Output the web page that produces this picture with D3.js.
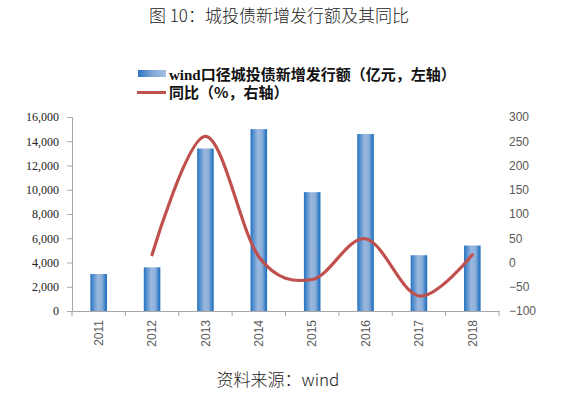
<!DOCTYPE html>
<html>
<head>
<meta charset="utf-8">
<script src="https://cdn.jsdelivr.net/npm/d3@7"></script>
<style>
  html, body { margin: 0; padding: 0; background: #fff; }
  svg { display: block; }
</style>
</head>
<body>
<svg id="chart" width="561" height="395"></svg>
<script>
const categories = ["2011", "2012", "2013", "2014", "2015", "2016", "2017", "2018"];
const issuance = [3050, 3600, 13400, 15000, 9800, 14600, 4600, 5400];
const yoy = [null, 16, 260, 12, -35, 49, -69, 16];
const leftTicks = [0, 2000, 4000, 6000, 8000, 10000, 12000, 14000, 16000];
const rightTicks = [-100, -50, 0, 50, 100, 150, 200, 250, 300];
const titleText = "图 10：城投债新增发行额及其同比";
const legendBar = "wind口径城投债新增发行额（亿元，左轴）";
const legendLine = "同比（%，右轴）";
const sourceText = "资料来源：wind";

const svg = d3.select("#chart");
const plotLeft = 72, plotRight = 499, plotTop = 117, plotBottom = 311;

const x = d3.scaleBand().domain(categories).range([plotLeft, plotRight]).paddingInner(0).paddingOuter(0);
const yL = d3.scaleLinear().domain([0, 16000]).range([plotBottom, plotTop]);
const yR = d3.scaleLinear().domain([-100, 300]).range([plotBottom, plotTop]);

// gradient for bars
const defs = svg.append("defs");
const grad = defs.append("linearGradient").attr("id", "barGrad").attr("x1", "0").attr("x2", "1").attr("y1", "0").attr("y2", "0");
[[0, "#1e6fbe"], [0.14, "#4f8ccc"], [0.45, "#9bb8de"], [0.7, "#8aaed9"], [0.88, "#3f83c9"], [1, "#1c6dbd"]].forEach(([o, c]) =>
  grad.append("stop").attr("offset", o).attr("stop-color", c));
const lgrad = defs.append("linearGradient").attr("id", "legGrad").attr("x1", "0").attr("x2", "1").attr("y1", "0").attr("y2", "0");
[[0, "#2a76c2"], [0.5, "#7fa6d6"], [1, "#a5c0e2"]].forEach(([o, c]) =>
  lgrad.append("stop").attr("offset", o).attr("stop-color", c));

// Title
svg.append("text").attr("x", 279).attr("y", 22).attr("text-anchor", "middle")
  .attr("font-family", "'Noto Sans CJK SC', sans-serif").attr("font-weight", 300)
  .attr("font-size", 17).attr("fill", "#222").text(titleText);

// Legend
const lg = svg.append("g");
lg.append("rect").attr("x", 138).attr("y", 70).attr("width", 28).attr("height", 7).attr("fill", "url(#legGrad)");
lg.append("text").attr("x", 169).attr("y", 79.5)
  .attr("font-family", "'Liberation Serif', 'Noto Sans CJK SC', serif").attr("font-weight", "bold")
  .attr("font-size", 15).attr("fill", "#111").text(legendBar);
lg.append("line").attr("x1", 137).attr("x2", 166).attr("y1", 92.5).attr("y2", 92.5)
  .attr("stroke", "#c0504d").attr("stroke-width", 3);
lg.append("text").attr("x", 169).attr("y", 98)
  .attr("font-family", "'Noto Sans CJK SC', serif").attr("font-weight", "bold")
  .attr("font-size", 15).attr("fill", "#111").text(legendLine);

// Bars
const bw = x.bandwidth() * 0.31;
svg.append("g").selectAll("rect").data(categories).join("rect")
  .attr("x", (d) => x(d) + x.bandwidth() / 2 - bw / 2)
  .attr("y", (d, i) => yL(issuance[i]))
  .attr("width", bw)
  .attr("height", (d, i) => plotBottom - yL(issuance[i]))
  .attr("fill", "url(#barGrad)");

// Left axis
const axL = svg.append("g").attr("transform", `translate(${plotLeft},0)`)
  .call(d3.axisLeft(yL).tickValues(leftTicks).tickSize(5).tickPadding(8).tickFormat(d3.format(",")));
axL.select(".domain").attr("stroke", "#a6a6a6");
axL.selectAll(".tick line").attr("stroke", "#a6a6a6");
axL.selectAll("text").attr("font-family", "'Liberation Serif', serif").attr("font-size", 12).attr("fill", "#222");

// Right axis (labels only)
const axR = svg.append("g").attr("transform", `translate(${plotRight},0)`)
  .call(d3.axisRight(yR).tickValues(rightTicks).tickSize(0).tickPadding(10));
axR.select(".domain").remove();
axR.selectAll("text").attr("font-family", "'Liberation Sans', sans-serif").attr("font-size", 12).attr("fill", "#595959");

// X axis
const axX = svg.append("g").attr("transform", `translate(0,${plotBottom})`)
  .call(d3.axisBottom(x).tickSize(0));
axX.select(".domain").attr("stroke", "#a6a6a6");
axX.selectAll(".tick text")
  .attr("transform", "rotate(-90)")
  .attr("text-anchor", "end")
  .attr("x", -9).attr("y", 0).attr("dy", "0.35em")
  .attr("font-family", "'Liberation Sans', sans-serif").attr("font-size", 12).attr("fill", "#595959");
// boundary ticks between categories
const bounds = categories.map(c => x(c)).concat([plotRight]);
svg.append("g").selectAll("line").data(bounds).join("line")
  .attr("x1", d => d).attr("x2", d => d)
  .attr("y1", plotBottom).attr("y2", plotBottom + 5)
  .attr("stroke", "#a6a6a6");

// Line
const pts = categories.map((c, i) => [x(c) + x.bandwidth() / 2, yoy[i]]).filter(p => p[1] !== null);
const line = d3.line().x(d => d[0]).y(d => yR(d[1])).curve(d3.curveCardinal.tension(0));
svg.append("path").datum(pts).attr("d", line)
  .attr("fill", "none").attr("stroke", "#c0504d").attr("stroke-width", 3.2).attr("stroke-linecap", "round");

// Source
svg.append("text").attr("x", 278).attr("y", 386).attr("text-anchor", "middle")
  .attr("font-family", "'Noto Sans CJK SC', sans-serif").attr("font-weight", 300)
  .attr("font-size", 17).attr("fill", "#222").text(sourceText);
</script>
</body>
</html>
